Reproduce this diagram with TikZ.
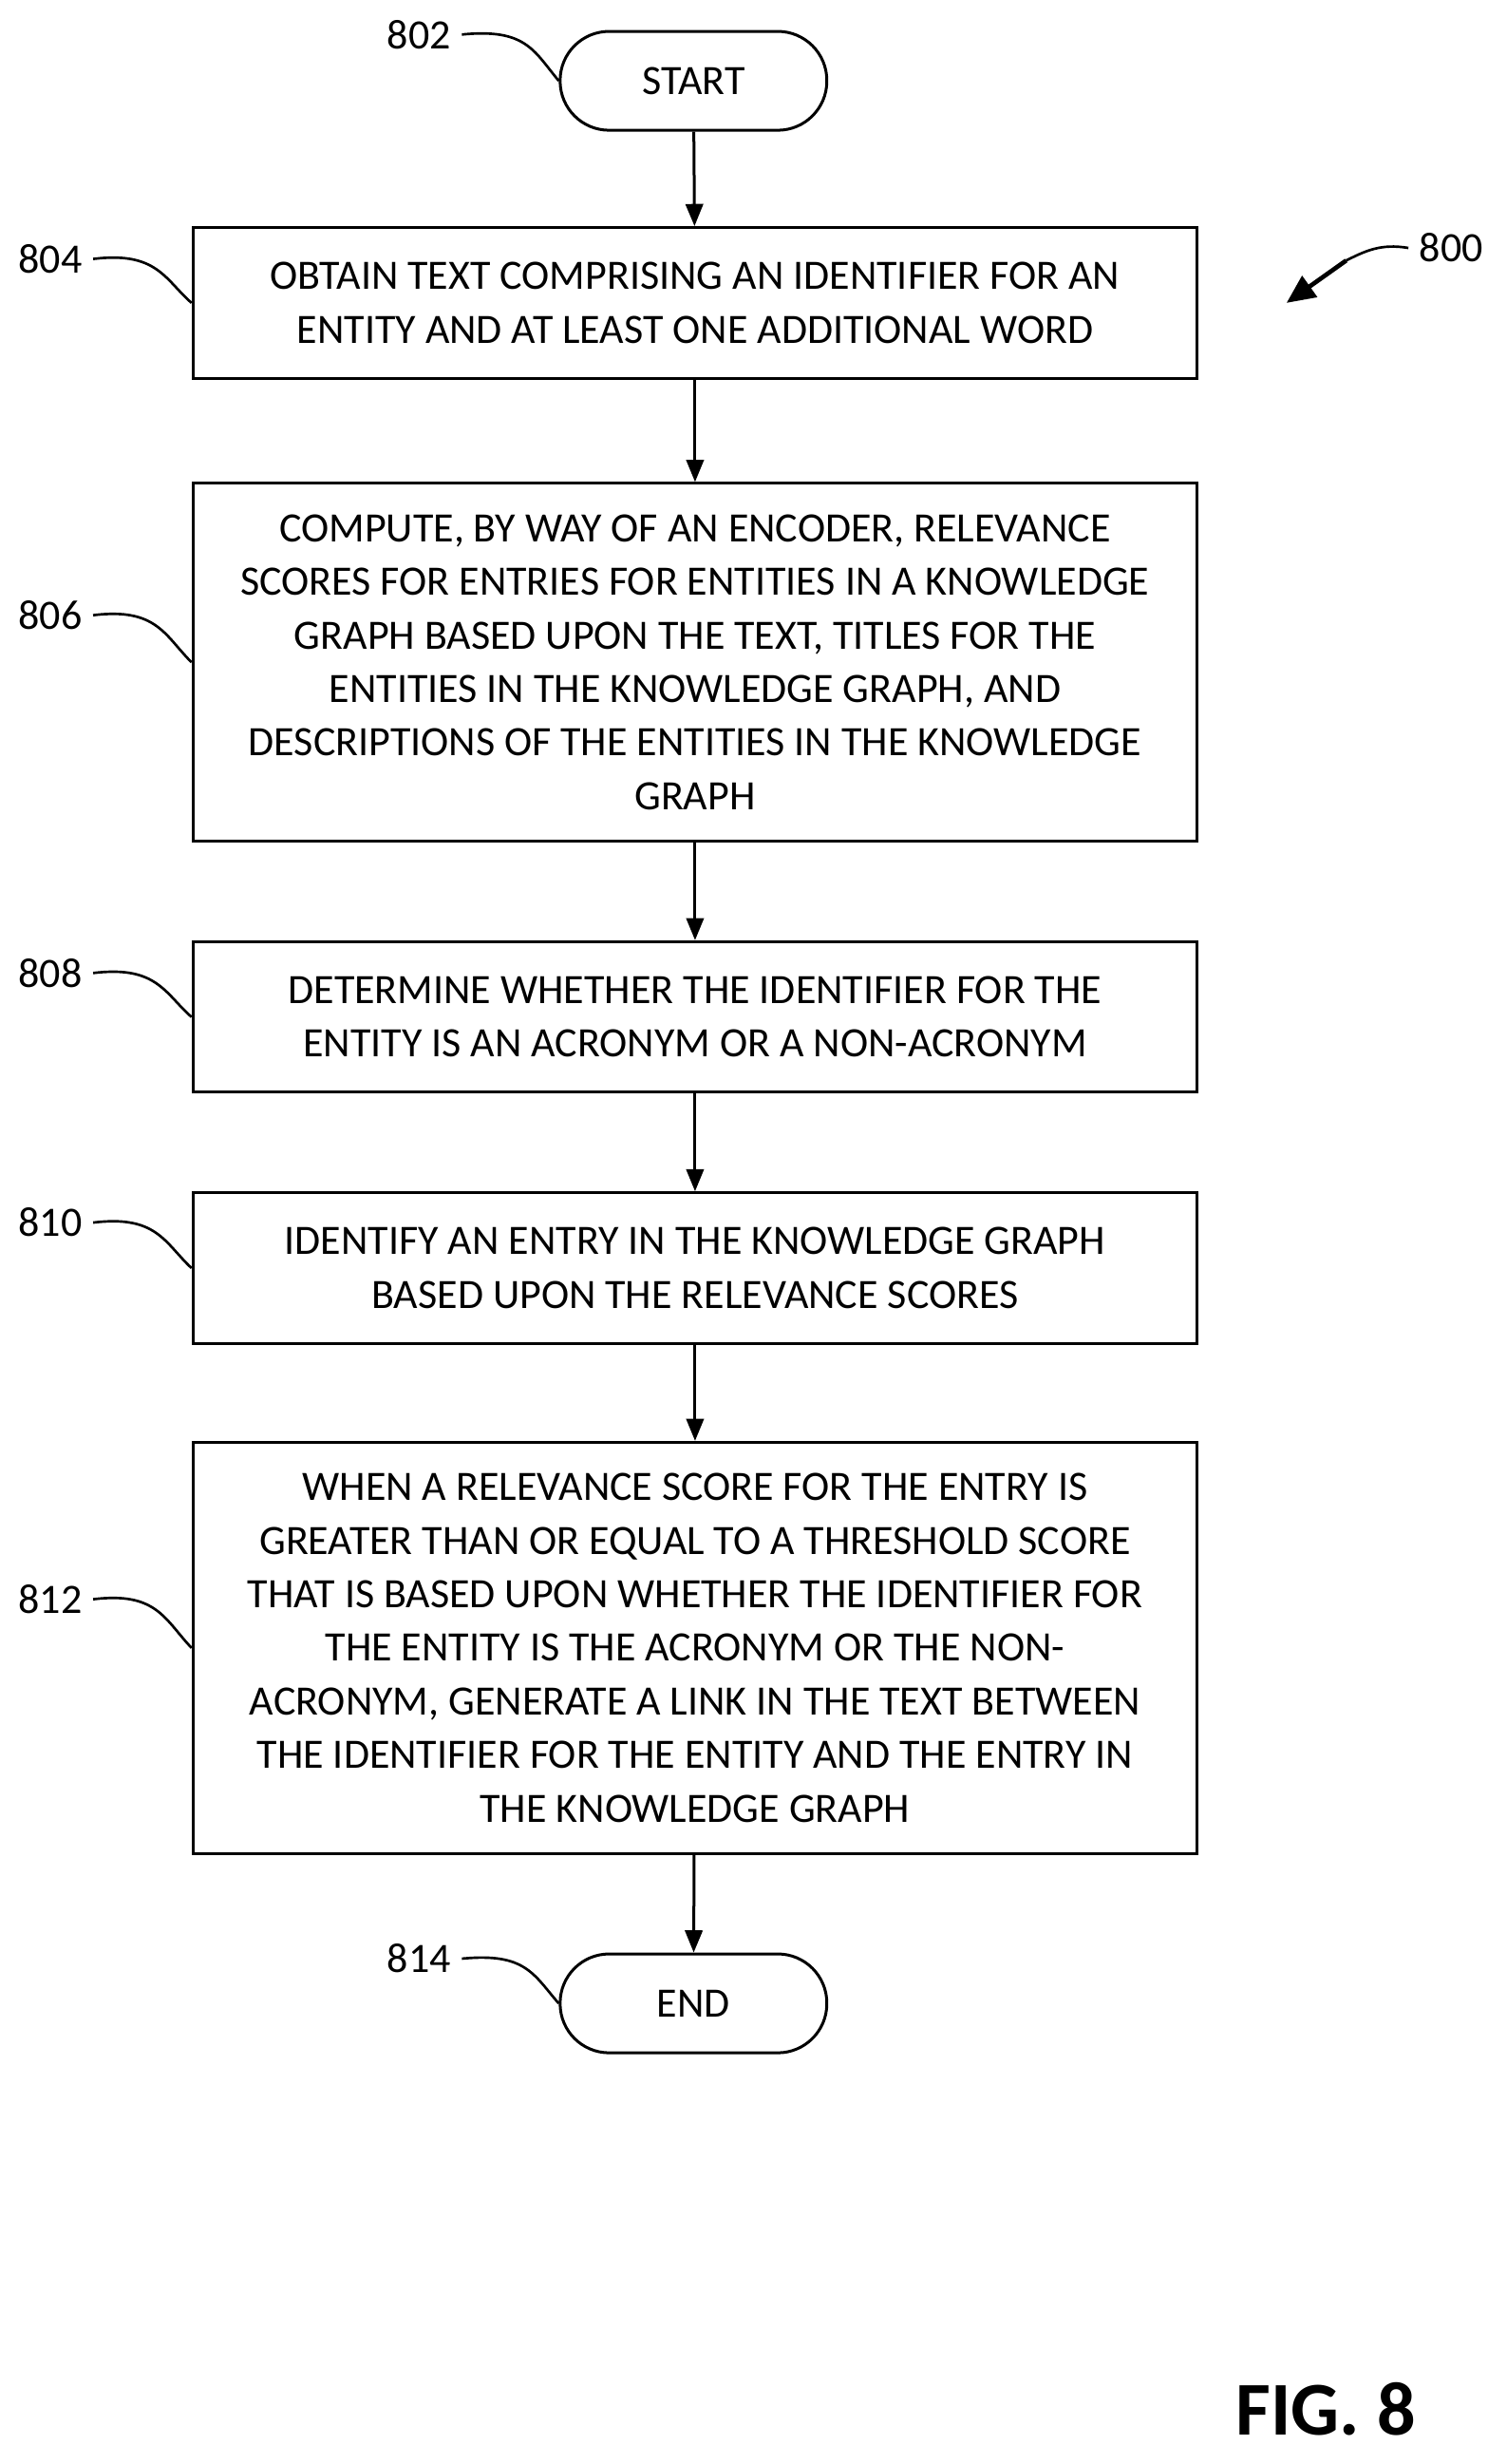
\documentclass[tikz,border=0pt]{standalone}
\usepackage{fontspec}
\setmainfont{Carlito}
\usetikzlibrary{positioning,arrows.meta}

\begin{document}
\begin{tikzpicture}[x=0.4956pt,y=-0.4956pt,
    stepbox/.style={draw, line width=0.9pt, minimum width=640*0.4956pt, align=center,
      font=\fontsize{13.2}{16.9}\selectfont, inner sep=0pt},
    term/.style={draw, line width=0.9pt, rounded corners=15.5pt, minimum width=170*0.4956pt,
      minimum height=63*0.4956pt, font=\fontsize{13.2}{16.9}\selectfont},
    flow/.style={-{Triangle[length=7pt,width=5.5pt]}, line width=0.9pt},
    lead/.style={line width=0.8pt},
    num/.style={font=\fontsize{13.2}{16}\selectfont}]

      \useasboundingbox (0,0) rectangle (960,1570);

      % steps
      \node[term] (start) at (442,51.5) {START};
      \node[stepbox, minimum height=96*0.4956pt] (s804) at (443,193)
        {OBTAIN TEXT COMPRISING AN IDENTIFIER FOR AN\\ENTITY AND AT LEAST ONE ADDITIONAL WORD};
      \node[stepbox, minimum height=228*0.4956pt] (s806) at (443,422)
        {COMPUTE, BY WAY OF AN ENCODER, RELEVANCE\\SCORES FOR ENTRIES FOR ENTITIES IN A KNOWLEDGE\\GRAPH BASED UPON THE TEXT, TITLES FOR THE\\ENTITIES IN THE KNOWLEDGE GRAPH, AND\\DESCRIPTIONS OF THE ENTITIES IN THE KNOWLEDGE\\GRAPH};
      \node[stepbox, minimum height=96*0.4956pt] (s808) at (443,648)
        {DETERMINE WHETHER THE IDENTIFIER FOR THE\\ENTITY IS AN ACRONYM OR A NON-ACRONYM};
      \node[stepbox, minimum height=96*0.4956pt] (s810) at (443,808)
        {IDENTIFY AN ENTRY IN THE KNOWLEDGE GRAPH\\BASED UPON THE RELEVANCE SCORES};
      \node[stepbox, minimum height=262*0.4956pt] (s812) at (443,1050)
        {WHEN A RELEVANCE SCORE FOR THE ENTRY IS\\GREATER THAN OR EQUAL TO A THRESHOLD SCORE\\THAT IS BASED UPON WHETHER THE IDENTIFIER FOR\\THE ENTITY IS THE ACRONYM OR THE NON-\\ACRONYM, GENERATE A LINK IN THE TEXT BETWEEN\\THE IDENTIFIER FOR THE ENTITY AND THE ENTRY IN\\THE KNOWLEDGE GRAPH};
      \node[term] (end) at (442,1276.5) {END};

      \draw[flow] (start) -- (s804);
      \draw[flow] (s804) -- (s806);
      \draw[flow] (s806) -- (s808);
      \draw[flow] (s808) -- (s810);
      \draw[flow] (s810) -- (s812);
      \draw[flow] (s812) -- (end);

      % reference numerals
      \node[num] (n802) at (267,22) {802};
      \node[num] (n804) at (32,165) {804};
      \node[num] (n806) at (32,392) {806};
      \node[num] (n808) at (32,620) {808};
      \node[num] (n810) at (32,779) {810};
      \node[num] (n812) at (32,1019) {812};
      \node[num] (n814) at (267,1248) {814};
      \node[num] (n800) at (925,158) {800};

      \draw[lead] (n802.east) .. controls (335,18) and (340,32) .. (start.west);
      \draw[lead] (n804.east) .. controls (100,160) and (105,178) .. (s804.west);
      \draw[lead] (n806.east) .. controls (100,387) and (105,405) .. (s806.west);
      \draw[lead] (n808.east) .. controls (100,615) and (105,633) .. (s808.west);
      \draw[lead] (n810.east) .. controls (100,774) and (105,792) .. (s810.west);
      \draw[lead] (n812.east) .. controls (100,1014) and (105,1032) .. (s812.west);
      \draw[lead] (n814.east) .. controls (335,1244) and (340,1258) .. (end.west);
      \draw[lead] (n800.west) .. controls (880,155) and (870,160) .. (858,166);
      \draw[-{Triangle[length=9pt,width=8pt]}, line width=1.4pt] (858,166) -- (820,193);

      \node[font=\bfseries\fontsize{24}{28}\selectfont] (fig) at (845,1535) {FIG. 8};
\end{tikzpicture}
\end{document}
